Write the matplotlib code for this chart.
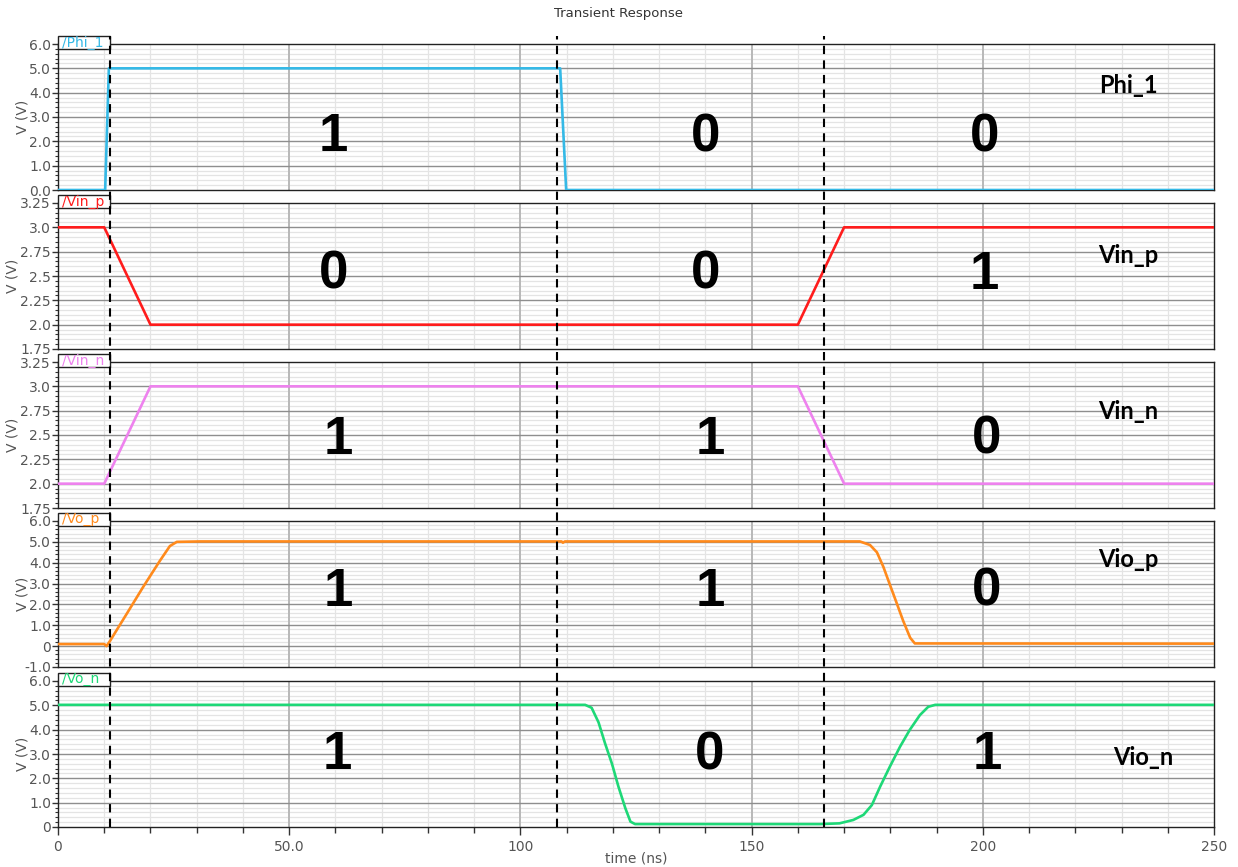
import matplotlib
matplotlib.use('Agg')
import matplotlib.pyplot as plt
from matplotlib.patches import Rectangle
from matplotlib.ticker import MultipleLocator, FixedLocator

# transient waveforms (time in ns, volts)
phi_t = [0, 10.2, 11.0, 108.6, 109.9, 250]
phi_v = [0, 0, 5.0, 5.0, 0, 0]

vinp_t = [0, 10, 20, 160, 170, 250]
vinp_v = [3.0, 3.0, 2.0, 2.0, 3.0, 3.0]

vinn_t = [0, 10, 20, 160, 170, 250]
vinn_v = [2.0, 2.0, 3.0, 3.0, 2.0, 2.0]

viop_t = [0, 10.0, 10.5, 11.25, 14.86, 18.45, 22.06, 24.2, 25.7, 30.7, 108.9, 109.2,
          109.6, 173.4, 175.6, 177.1, 178.5, 179.9, 181.4, 182.8, 184.3, 185.3, 250]
viop_v = [0.1, 0.1, 0.0, 0.25, 1.55, 2.85, 4.1, 4.8, 5.0, 5.02, 5.02, 4.96,
          5.02, 5.02, 4.85, 4.5, 3.8, 2.95, 2.05, 1.2, 0.4, 0.13, 0.12]

vion_t = [0, 114.0, 115.4, 116.9, 118.3, 119.8, 121.2, 122.7, 123.8, 124.8, 164.8, 169.0,
          172.0, 174.2, 176.0, 177.8, 179.9, 182.1, 184.2, 186.4, 188.2, 189.7, 250]
vion_v = [5.02, 5.02, 4.9, 4.3, 3.44, 2.6, 1.66, 0.77, 0.22, 0.12, 0.12, 0.15,
          0.29, 0.5, 0.9, 1.66, 2.48, 3.3, 3.99, 4.6, 4.94, 5.02, 5.02]

# phase boundaries
markers = [11.2, 107.9, 165.7]

names = ['/Phi_1', '/Vin_p', '/Vin_n', '/Vo_p', '/Vo_n']
side_names = ['Phi_1', 'Vin_p', 'Vin_n', 'Vio_p', 'Vio_n']
colors = ['#35b9e6', '#ff1c1c', '#ee82ee', '#ff8a1c', '#1ed877']
series = [(phi_t, phi_v), (vinp_t, vinp_v), (vinn_t, vinn_v), (viop_t, viop_v), (vion_t, vion_v)]

# logic level written in each phase
digits = [['1', '0', '0'],
          ['0', '0', '1'],
          ['1', '1', '0'],
          ['1', '1', '0'],
          ['1', '0', '1']]
digit_x = [[59.5, 140.1, 200.3],
           [59.5, 140.1, 200.3],
           [60.6, 141.0, 200.9],
           [60.6, 141.0, 200.9],
           [60.4, 141.0, 200.9]]
digit_y = [0.363, 0.507, 0.466, 0.514, 0.493]
side_pos = [(231.4, 0.719), (231.4, 0.637), (231.4, 0.664), (231.4, 0.733), (234.6, 0.479)]

ylims = [(0, 6), (1.75, 3.25), (1.75, 3.25), (-1, 6), (0, 6)]
yticks = [[0, 1, 2, 3, 4, 5, 6],
          [1.75, 2.0, 2.25, 2.5, 2.75, 3.0, 3.25],
          [1.75, 2.0, 2.25, 2.5, 2.75, 3.0, 3.25],
          [-1, 0, 1, 2, 3, 4, 5, 6],
          [0, 1, 2, 3, 4, 5, 6]]
ytick_labels = [['0.0', '1.0', '2.0', '3.0', '4.0', '5.0', '6.0'],
                ['1.75', '2.0', '2.25', '2.5', '2.75', '3.0', '3.25'],
                ['1.75', '2.0', '2.25', '2.5', '2.75', '3.0', '3.25'],
                ['-1.0', '0', '1.0', '2.0', '3.0', '4.0', '5.0', '6.0'],
                ['0', '1.0', '2.0', '3.0', '4.0', '5.0', '6.0']]
yminor = [0.2, 0.05, 0.05, 0.2, 0.2]
ylabel_off = [28, 38, 38, 28, 28]

xticks = [0, 50, 100, 150, 200, 250]
xtick_labels = ['0', '50.0', '100', '150', '200', '250']

W, H = 1238, 867
fig = plt.figure(figsize=(W / 100, H / 100), dpi=100)
fig.patch.set_facecolor('white')

left, right = 58 / W, 1214 / W
tops = [44, 203, 362, 521, 681]
panel_h = 146
panel_w = 1156

tick_col = '#555555'
for i in range(5):
    bottom = 1 - (tops[i] + panel_h) / H
    ax = fig.add_axes([left, bottom, right - left, panel_h / H])
    t, v = series[i]
    ax.plot(t, v, color=colors[i], lw=1.9, zorder=3, solid_joinstyle='round')
    ax.set_xlim(0, 250)
    ax.set_ylim(*ylims[i])

    ax.xaxis.set_major_locator(FixedLocator(xticks))
    ax.xaxis.set_minor_locator(MultipleLocator(10))
    ax.yaxis.set_major_locator(FixedLocator(yticks[i]))
    ax.set_yticklabels(ytick_labels[i])
    ax.yaxis.set_minor_locator(MultipleLocator(yminor[i]))

    # light minor grid, darker major lines drawn on top of it
    ax.grid(which='minor', axis='both', color='#e4e4e4', lw=0.9)
    ax.set_axisbelow(True)
    for xv in xticks[1:-1]:
        ax.axvline(xv, color='#b8b8b8', lw=1.4, zorder=1.5)
    for yv in yticks[i][1:-1]:
        ax.axhline(yv, color='#8e8e8e', lw=1.0, zorder=1.6)

    ax.tick_params(axis='y', which='major', length=4, width=1, colors='#333333',
                   labelcolor=tick_col, labelsize=10, pad=1)
    ax.tick_params(axis='y', which='minor', length=2, width=0.8, colors='#333333')
    for sp in ax.spines.values():
        sp.set_color('#222222')
        sp.set_linewidth(1.0)
    ax.set_ylabel('V (V)', color=tick_col, fontsize=10)
    ax.yaxis.set_label_coords(-ylabel_off[i] / panel_w, 0.5)

    if i < 4:
        ax.tick_params(axis='x', which='both', bottom=False, labelbottom=False)
    else:
        ax.set_xticklabels(xtick_labels)
        ax.tick_params(axis='x', which='major', length=6, width=1, colors='#333333',
                       labelcolor=tick_col, labelsize=10)
        ax.tick_params(axis='x', which='minor', length=4, width=1, colors='#333333')

    # trace name tab above the top-left corner
    tab = Rectangle((0, 1 - 5 / panel_h), 52 / panel_w, 13 / panel_h, transform=ax.transAxes,
                    facecolor='white', edgecolor='#222222', lw=1.0, clip_on=False, zorder=6)
    ax.add_patch(tab)
    ax.text(4 / panel_w, 1 + 1.5 / panel_h, names[i], transform=ax.transAxes, color=colors[i],
            fontsize=10, va='center', ha='left', zorder=7, clip_on=False)

    for d, dx in zip(digits[i], digit_x[i]):
        ax.text(dx, digit_y[i], d, transform=ax.get_xaxis_transform(), fontsize=38,
                fontweight='bold', family='Liberation Sans', ha='center', va='center', zorder=5)
    sx, sy = side_pos[i]
    ax.text(sx, sy, side_names[i], transform=ax.get_xaxis_transform(), fontsize=17,
            fontweight='bold', family='Lato', ha='center', va='center', zorder=5)

# dashed phase markers running through all panels
top_px, bot_px = 36, 827
ov = fig.add_axes([left, 1 - bot_px / H, right - left, (bot_px - top_px) / H])
ov.set_xlim(0, 250)
ov.set_ylim(0, 1)
ov.axis('off')
ov.patch.set_alpha(0)
for m in markers:
    ov.axvline(m, color='black', lw=1.5, ls=(0, (4, 3)), zorder=8)

fig.text(0.5, 1 - 14 / H, 'Transient Response', ha='center', va='center',
         fontsize=9.5, color='#333333')
fig.text(636 / W, 1 - 858 / H, 'time (ns)', ha='center', va='center',
         fontsize=10, color=tick_col)

fig.savefig('out.png', dpi=100)
